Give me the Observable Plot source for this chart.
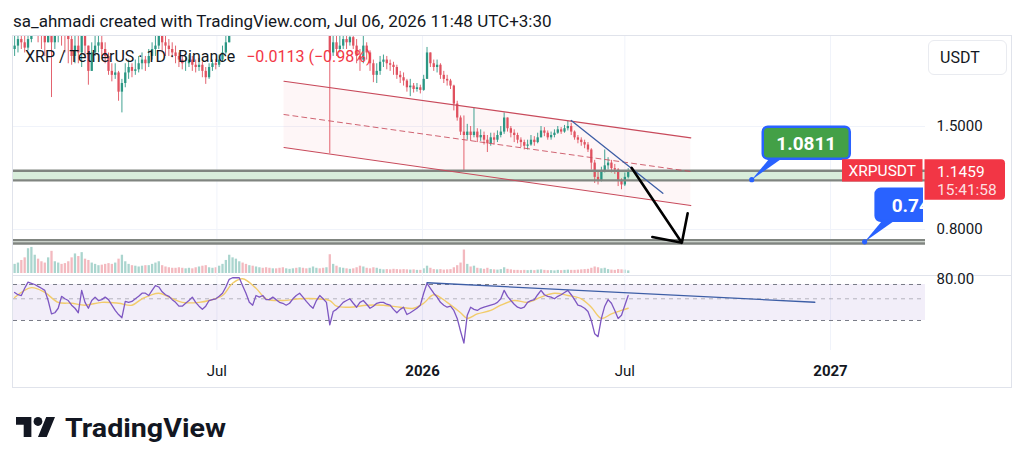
<!DOCTYPE html>
<html><head><meta charset="utf-8">
<script src="https://cdn.jsdelivr.net/npm/d3@7"></script>
<script src="https://cdn.jsdelivr.net/npm/@observablehq/plot@0.6"></script>
<style>
body{margin:0;background:#fff;width:1024px;height:468px;overflow:hidden;font-family:Roboto,"Noto Sans",sans-serif;position:relative;color:#131722}
.abs{position:absolute}
</style></head><body>
<div class="abs" style="left:13px;top:10px;font-size:17px;line-height:22px;white-space:nowrap">sa_ahmadi created with TradingView.com, Jul 06, 2026 11:48 UTC+3:30</div>
<div class="abs" style="left:12px;top:35px;width:1000px;height:353px;border:1px solid #e0e3eb;box-sizing:border-box"></div>
<div class="abs" style="left:13px;top:275px;width:998px;height:1px;background:#e0e3eb"></div>
<div id="vol" class="abs" style="left:13px;top:243px"></div>
<div id="price" class="abs" style="left:13px;top:36px"></div>
<div id="rsi" class="abs" style="left:13px;top:275px"></div>
<div class="abs" style="left:25px;top:47px;font-size:16px;line-height:20px;white-space:nowrap">XRP / TetherUS · 1D · Binance<span style="color:#f23645;margin-left:11px">−0.0113 (−0.98%)</span></div>
<div class="abs" style="left:928px;top:40px;width:79px;height:35px;border:1px solid #e9ebf0;border-radius:6px;box-sizing:border-box;background:#fff;font-size:16px;line-height:33px;padding-left:11px">USDT</div>
<svg class="abs" style="left:16px;top:417px" width="39" height="20" viewBox="0 4 35.5 18" preserveAspectRatio="none"><path d="M14 22H7V11H0V4h14v18zM28 22h-8l7.5-18h8L28 22z" fill="#131722"/><circle cx="20" cy="8" r="4" fill="#131722"/></svg>
<svg class="abs" style="left:64px;top:410px" width="170" height="40"><text x="1" y="27" font-size="25" font-weight="bold" fill="#131722" textLength="161" lengthAdjust="spacingAndGlyphs" font-family="Roboto">TradingView</text></svg>
<script>
// ---- data (3-day candles from 2025-01-01) ----
const startDate = "2025-01-01";
const stepDays = 3;
const firstOpen = 2.40;
const closes = [
2.45,2.55,2.50,2.42,2.55,2.70,2.90,2.80,2.60,2.50,
2.70,2.50,2.65,2.75,2.70,2.60,2.55,2.30,2.45,2.35,
2.80,2.45,2.10,2.35,2.45,2.50,2.40,2.30,2.10,2.05,
2.08,1.85,1.95,2.08,2.15,2.10,2.12,2.20,2.25,2.20,
2.30,2.40,2.45,2.60,2.50,2.45,2.40,2.35,2.30,2.25,
2.20,2.20,2.25,2.18,2.15,2.18,2.10,2.02,2.15,2.20,
2.18,2.25,2.35,2.50,2.80,2.95,3.40,3.50,3.30,3.10,
3.20,3.00,3.10,3.20,3.00,2.90,2.85,3.00,2.95,2.85,
2.80,2.90,3.00,3.05,2.95,3.00,2.85,2.80,2.85,2.95,
3.00,2.95,2.85,2.90,2.35,2.50,2.40,2.45,2.55,2.50,
2.58,2.45,2.30,2.25,2.45,2.35,2.20,2.05,2.10,2.22,
2.25,2.20,2.18,2.15,2.05,2.02,1.98,1.90,1.92,1.88,
1.90,1.87,2.00,2.35,2.20,2.15,2.18,2.05,2.00,1.98,
1.92,1.72,1.58,1.45,1.42,1.45,1.42,1.45,1.40,1.42,
1.38,1.35,1.40,1.38,1.42,1.45,1.58,1.48,1.44,1.42,
1.38,1.36,1.33,1.34,1.38,1.36,1.40,1.46,1.44,1.40,
1.42,1.44,1.47,1.45,1.48,1.50,1.45,1.40,1.38,1.36,
1.34,1.30,1.20,1.10,1.08,1.14,1.18,1.20,1.16,1.15,
1.08,1.05,1.10,1.1459];
const highs = [
2.60,2.70,2.80,2.60,2.70,3.00,3.20,3.10,2.90,2.80,
3.00,2.90,2.85,2.90,2.90,2.80,2.90,2.60,2.70,2.60,
3.00,2.80,2.40,2.50,2.60,2.65,2.60,2.50,2.35,2.20,
2.20,2.10,2.00,2.20,2.25,2.20,2.25,2.30,2.35,2.30,
2.40,2.50,2.60,2.75,2.70,2.60,2.55,2.50,2.45,2.35,
2.30,2.30,2.32,2.30,2.25,2.27,2.22,2.15,2.20,2.25,
2.26,2.32,2.45,2.65,3.00,3.10,3.60,3.65,3.55,3.35,
3.30,3.25,3.25,3.35,3.25,3.05,3.00,3.10,3.10,3.00,
2.95,3.05,3.10,3.15,3.10,3.10,3.05,2.95,3.00,3.05,
3.10,3.10,3.00,3.05,2.95,2.65,2.60,2.60,2.70,2.65,
2.70,2.62,2.55,2.40,2.65,2.50,2.38,2.25,2.20,2.30,
2.32,2.30,2.25,2.22,2.18,2.10,2.08,2.00,2.00,1.95,
1.95,1.93,2.05,2.43,2.35,2.25,2.25,2.20,2.10,2.05,
2.00,1.93,1.75,1.60,1.60,1.52,1.50,1.68,1.48,1.47,
1.45,1.42,1.44,1.44,1.46,1.50,1.63,1.58,1.50,1.47,
1.44,1.40,1.38,1.38,1.42,1.41,1.44,1.50,1.49,1.46,
1.45,1.47,1.50,1.49,1.51,1.55,1.53,1.46,1.42,1.40,
1.38,1.36,1.31,1.22,1.14,1.17,1.30,1.24,1.22,1.19,
1.16,1.09,1.13,1.16];
const lows = [
2.30,2.35,2.40,2.35,2.38,2.50,2.60,2.50,2.40,2.30,
2.50,1.79,2.40,2.50,2.45,2.35,2.20,2.18,2.20,2.20,
2.15,2.30,1.93,2.10,2.30,2.35,2.30,2.20,2.05,1.97,
2.00,1.75,1.63,1.90,2.00,2.02,2.05,2.08,2.12,2.10,
2.15,2.25,2.30,2.40,2.35,2.30,2.30,2.28,2.20,2.15,
2.12,2.10,2.15,2.10,2.08,2.10,2.02,1.94,2.00,2.10,
2.12,2.15,2.22,2.33,2.50,2.80,2.90,3.30,3.20,3.00,
3.05,2.90,2.95,3.05,2.90,2.80,2.75,2.80,2.85,2.75,
2.72,2.75,2.85,2.95,2.85,2.90,2.78,2.72,2.75,2.80,
2.90,2.85,2.75,2.80,1.27,2.30,2.30,2.35,2.40,2.40,
2.45,2.40,2.20,2.10,2.20,2.25,2.10,1.96,1.95,2.05,
2.15,2.12,2.10,2.05,2.00,1.95,1.92,1.85,1.80,1.84,
1.85,1.83,1.86,2.00,2.15,2.10,2.08,2.00,1.95,1.92,
1.88,1.65,1.55,1.42,1.14,1.38,1.37,1.40,1.36,1.37,
1.34,1.28,1.33,1.34,1.36,1.40,1.43,1.45,1.40,1.36,
1.35,1.32,1.30,1.30,1.33,1.33,1.35,1.40,1.41,1.38,
1.38,1.40,1.43,1.43,1.44,1.46,1.42,1.38,1.35,1.33,
1.31,1.28,1.15,1.06,1.05,1.07,1.13,1.15,1.13,1.12,
1.04,1.02,1.04,1.09];
const volumes = [
35,40,50,60,95,100,70,55,45,40,
60,85,45,40,35,38,45,60,75,65,
80,55,50,40,35,30,32,35,38,35,
40,55,70,45,35,30,28,25,28,30,
30,35,40,45,30,25,22,20,20,22,
20,18,20,18,22,25,28,30,22,20,
22,28,35,50,70,60,55,45,40,35,
30,28,25,22,20,22,20,18,18,20,
22,18,16,18,20,22,20,18,20,25,
20,18,20,22,72,35,28,22,20,18,
16,18,22,28,25,20,18,22,20,16,
14,15,14,16,15,14,15,14,13,14,
12,12,18,28,20,15,14,15,13,14,
15,22,30,40,90,35,25,28,20,18,
16,20,15,14,13,15,22,16,14,12,
12,11,12,11,12,11,13,14,12,11,
11,10,12,11,12,13,12,12,13,14,
15,16,20,25,22,18,20,15,13,12,
15,14,13,10];
const rsiValues = [
58,55,54,64,74,72,70,67,64,61,
48,35,36,40,53,50,48,43,40,36,
61,46,40,48,52,48,49,52,49,43,
38,34.5,32,47,46,47,50,53,57,57,
54,61,68,66,59,55,53,49,46,42,
42,45,48,52,46,42,39,42,48,49,
50,53,57,66,79,82,82,82,68,57,
46,43,54,52,54,49,49,52,49,46,
45,43,45,50,54,57,52,47,43,40,
48,54,50,46,27,37,39,42,46,48,
50,45,41,46,48,44,40,42,45,46,
46,44,43,39,36,39,41,34.5,36,38,
40,43,57,72,64,57,52,46,43,41,
42,38,31.5,23.3,17.6,34,41,39,38,40,
41,42,43,44,46,50,61,53,48,44,
41,40,41,46,48,49,55,61,55,53,
52,50,53,55,58,61,55,49,43,42,
40,37,30,22,20.5,31.5,42,49,45,38,
31.5,34,43,54];
const maIdx = [0,5,9,13,17,21,26,31,35,38,43,46,50,55,58,62,65,68,72,75,80,85,90,94,96,100,105,110,115,119,122,125,129,133,135,138,142,145,149,153,157,161,165,169,172,175,178,181,183];
const maVal = [51.6,65,58,46,45,43,46,45,43,50,57,52,46,46,48,54,72,80,64,50,48,50,50,48,42,41,43,43,41,40,45,55,46,36,31.5,35,38,43,48,46,52,57,54,50,41,31.5,35,38,40];

// drawings
const channelDates = ["2025-08-30","2026-08-29"];
const channelUpper = [1.978,1.400];
const channelMid = [1.614,1.140];
const channelLower = [1.320,0.926];
const zoneLow = [1.080,0.735];
const zoneHigh = [1.145,0.750];
const zoneFill = ["#d8eddb","#e4ece4"];
const trendDates = ["2026-05-14","2026-08-04"];
const trendPrices = [1.556,0.9985];
const arrowDates = ["2026-07-07","2026-08-21"];
const arrowPrices = [1.166,0.738];
const rsiTrendDates = ["2026-01-05","2026-12-18"];
const rsiTrendValues = [72.9,46.1];
const rsiLevels = [70,30];
const rsiMid = [50];
const calloutDates = ["2026-10-23","2027-02-01"];
const calloutPrices = [1.0811,0.74];
const calloutTexts = ["1.0811","0.74"];
const calloutFills = ["#43a047","#2962ff"];
const calloutAlign = ["middle","start"];
const priceTicks = [1.5,0.8];
const rsiTicks = [80];
const gridDates = ["2025-07-01","2026-01-01","2026-07-01","2027-01-01"];
const monthTicks = ["2025-07-01","2026-07-01"];
const yearTicks = ["2026-01-01","2027-01-01"];
const xDomainDates = ["2024-12-31","2027-03-27"];
const priceDomain = [0.6044,2.598];
const rsiDomain = [14.8,86.5];
const lastTime = "15:41:58";
const symbol = "XRPUSDT";

// ---- build ----
const D = s => new Date(s);
const day = 864e5;
const t0 = D(startDate).getTime();
const UP = "#2b9784", DOWN = "#e0515f";
const candles = closes.map((c,i) => {
  const o = i ? closes[i-1] : firstOpen;
  return {date:new Date(t0 + i*stepDays*day), open:o, close:c,
    high:Math.max(highs[i],o,c), low:Math.min(lows[i],o,c),
    vol:volumes[i], rsi:rsiValues[i], col: c>=o ? UP : DOWN};
});
const maData = maIdx.map((k,j)=>({date:candles[k].date, v:maVal[j]}));
const channel = channelDates.map((d,i)=>({date:D(d), up:channelUpper[i], mid:channelMid[i], lo:channelLower[i]}));
const zones = zoneLow.map((l,i)=>({lo:l, hi:zoneHigh[i], fill:zoneFill[i]}));
const xDom = xDomainDates.map(D);
const grid = gridDates.map(D);
const W = 998, MR = 86;
const baseStyle = {fontFamily:"Roboto", fontSize:"15px", color:"#131722", background:"transparent", overflow:"visible"};

const volPlot = Plot.plot({
  width:W, height:30, marginLeft:0, marginRight:MR, marginTop:0, marginBottom:0, style:baseStyle,
  x:{type:"utc", domain:xDom, axis:null, label:null},
  y:{domain:[0,115], axis:null, label:null},
  marks:[Plot.ruleX(candles,{x:"date", y1:0, y2:"vol", stroke:"col", strokeOpacity:0.4, strokeWidth:2.3})]
});
document.getElementById("vol").appendChild(volPlot);

const price = Plot.plot({
  width:W, height:239, marginLeft:0, marginRight:MR, marginTop:0, marginBottom:0, style:baseStyle,
  x:{type:"utc", domain:xDom, axis:null, label:null},
  y:{type:"log", domain:priceDomain, axis:null, label:null},
  marks:[
    Plot.ruleX(grid,{stroke:"#f0f3fa"}),
    Plot.ruleY(priceTicks,{stroke:"#f0f3fa"}),
    Plot.areaY(channel,{x:"date", y1:"lo", y2:"up", fill:"#f23645", fillOpacity:0.045, curve:"linear"}),
    Plot.rect(zones,{x1:()=>xDom[0], x2:()=>xDom[1], y1:"lo", y2:"hi", fill:"fill"}),
    Plot.ruleX(candles,{x:"date", y1:"low", y2:"high", stroke:"col", strokeWidth:0.9, clip:true}),
    Plot.ruleX(candles,{x:"date", y1:"open", y2:"close", stroke:"col", strokeWidth:2.3, clip:true}),
    Plot.ruleY(zoneLow,{stroke:"#808580", strokeWidth:2.4}),
    Plot.ruleY(zoneHigh,{stroke:"#808580", strokeWidth:2.4}),
    Plot.line(channel,{x:"date", y:"up", stroke:"#c84a5b", strokeWidth:1.1}),
    Plot.line(channel,{x:"date", y:"lo", stroke:"#c84a5b", strokeWidth:1.1}),
    Plot.line(channel,{x:"date", y:"mid", stroke:"#c84a5b", strokeWidth:1, strokeDasharray:"5,4", strokeOpacity:0.85}),
    Plot.line(trendDates.map((d,i)=>({date:D(d), p:trendPrices[i]})),{x:"date", y:"p", stroke:"#3d5ea6", strokeWidth:1.3}),
    Plot.arrow([{x1:D(arrowDates[0]), y1:arrowPrices[0], x2:D(arrowDates[1]), y2:arrowPrices[1]}],
      {x1:"x1", y1:"y1", x2:"x2", y2:"y2", stroke:"#000", strokeWidth:2.6, headLength:20, headAngle:90}),
    Plot.axisY({anchor:"right", ticks:priceTicks, tickFormat:d3.format(".4f"), tickSize:0, tickPadding:11, fontSize:15, label:null})
  ]
});
document.getElementById("price").appendChild(price);

// callouts & last-price labels, positioned through the plot's own scales
(function(){
  const sx = price.scale("x"), sy = price.scale("y");
  const svg = d3.select(price);
  const fr = W - MR, fh = 239;
  svg.append("defs").append("clipPath").attr("id","pclip").append("rect").attr("x",0).attr("y",0).attr("width",fr-2).attr("height",fh);
  calloutDates.forEach((d,i)=>{
    const ax = sx.apply(D(d)), ay = sy.apply(calloutPrices[i]);
    const g = svg.append("g").attr("clip-path","url(#pclip)");
    g.append("path").attr("d",`M${ax},${ay}L${ax+20},${ay-24}L${ax+34},${ay-24}Z`).attr("fill","#2962ff");
    g.append("rect").attr("x",ax+11).attr("y",ay-53).attr("width",87).attr("height",32).attr("rx",5)
      .attr("fill",calloutFills[i]).attr("stroke","#2962ff").attr("stroke-width",2.5);
    g.append("circle").attr("cx",ax).attr("cy",ay).attr("r",2.6).attr("fill","#2962ff");
    const mid = calloutAlign[i] === "middle";
    g.append("text").attr("x", mid ? ax+54.5 : ax+27).attr("y",ay-37).attr("text-anchor",calloutAlign[i]).attr("dy","0.36em")
      .attr("fill","#fff").attr("font-weight","bold").attr("font-size",19).text(calloutTexts[i]);
  });
  const last = candles[candles.length-1].close;
  const py = sy.apply(last);
  svg.append("rect").attr("x",fr-83).attr("y",py-11).attr("width",80.5).attr("height",22.4).attr("fill","#f23645");
  svg.append("text").attr("x",fr-42.7).attr("y",py).attr("dy","0.36em").attr("text-anchor","middle").attr("fill","#fff").attr("font-size",15.5).text(symbol);
  svg.append("path").attr("d",`M${fr-0.5},${py-11}H${fr+76}a4,4 0 0 1 4,4V${py+25.5}a4,4 0 0 1 -4,4H${fr-0.5}Z`).attr("fill","#f23645");
  svg.append("text").attr("x",fr+12).attr("y",py+1).attr("dy","0.36em").attr("text-anchor","start").attr("fill","#fff").attr("font-size",15.5).text(d3.format(".4f")(last));
  svg.append("text").attr("x",fr+12).attr("y",py+19).attr("dy","0.36em").attr("text-anchor","start").attr("fill","#fff").attr("fill-opacity",0.85).attr("font-size",15.5).text(lastTime);
})();

const rsi = Plot.plot({
  width:W, height:113, marginLeft:0, marginRight:MR, marginTop:0, marginBottom:38, style:baseStyle,
  x:{type:"utc", domain:xDom, axis:null, label:null},
  y:{type:"log", domain:rsiDomain, axis:null, label:null},
  marks:[
    Plot.ruleX(grid,{stroke:"#f0f3fa"}),
    Plot.rect([0],{x1:()=>xDom[0], x2:()=>xDom[1], y1:rsiLevels[1], y2:rsiLevels[0], fill:"#7e57c2", fillOpacity:0.1}),
    Plot.ruleY(rsiLevels,{stroke:"#787b86", strokeDasharray:"4,4", strokeWidth:1}),
    Plot.ruleY(rsiMid,{stroke:"#787b86", strokeOpacity:0.5, strokeDasharray:"4,4", strokeWidth:1}),
    Plot.line(maData,{x:"date", y:"v", stroke:"#f2cc6b", strokeWidth:1.4, curve:"catmull-rom"}),
    Plot.line(candles,{x:"date", y:"rsi", stroke:"#7e57c2", strokeWidth:1.3}),
    Plot.line(rsiTrendDates.map((d,i)=>({date:D(d), v:rsiTrendValues[i]})),{x:"date", y:"v", stroke:"#3d5ea6", strokeWidth:1.3}),
    Plot.axisY({anchor:"right", ticks:rsiTicks, tickFormat:d3.format(".2f"), tickSize:0, tickPadding:11, fontSize:15, label:null}),
    Plot.axisX({ticks:monthTicks.map(D), tickFormat:d3.utcFormat("%b"), tickSize:0, tickPadding:15, fontSize:15, label:null}),
    Plot.axisX({ticks:yearTicks.map(D), tickFormat:d3.utcFormat("%Y"), tickSize:0, tickPadding:15, fontSize:15, fontWeight:"bold", label:null})
  ]
});
document.getElementById("rsi").appendChild(rsi);
</script>
</body></html>
